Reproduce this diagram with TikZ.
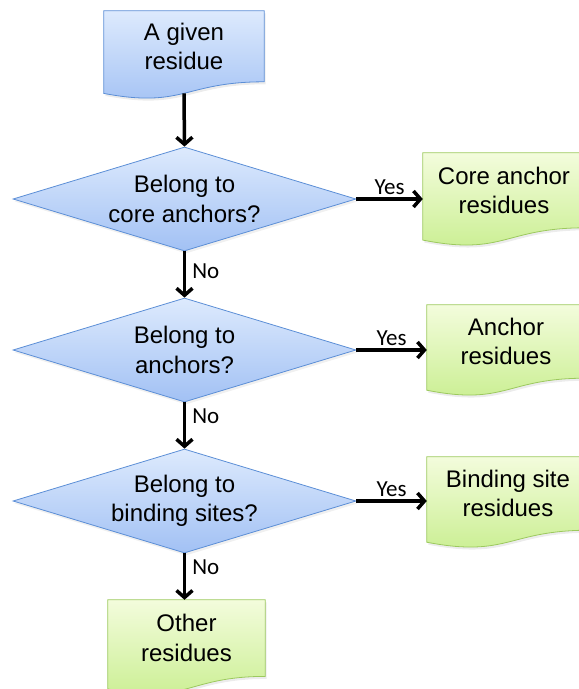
\documentclass[tikz,border=0pt]{standalone}
\usepackage{fontspec}
\setmainfont{Liberation Sans}
\newfontfamily\lblfont{Carlito}
\usetikzlibrary{shapes.geometric,arrows.meta,calc,backgrounds,shadows}
\definecolor{bluetop}{HTML}{DDEAFD}
\definecolor{bluebot}{HTML}{A2C1F4}
\definecolor{blueline}{HTML}{5B8ED6}
\definecolor{greentop}{HTML}{F3FCDC}
\definecolor{greenbot}{HTML}{C8EE8E}
\definecolor{greenline}{HTML}{9CC95E}
\newcommand{\docshape}[3]{%
  \pgfmathsetmacro\dA{0.132*#3}%
  \pgfmathsetmacro\dB{0.305*#3}%
  \path[#2] (#1.north west) -- (#1.north east) -- (#1.south east)
    .. controls (#1.south) and ($(#1.south)+(0,\dB)$) .. ($(#1.south west)+(0,\dA)$) -- cycle;}
\begin{document}
\begin{tikzpicture}[x=1pt,y=-1pt,
  txt/.style={font=\fontsize{24}{29.5}\selectfont, align=center, inner sep=0pt},
  decision/.style={txt, diamond, minimum width=343pt, minimum height=104pt, shape aspect=3.3},
  dblue/.style={draw=blueline, line width=0.8pt, top color=bluetop, bottom color=bluebot},
  docbox/.style={txt, rectangle},
  bluedoc/.style={draw=blueline, line width=0.8pt, top color=bluetop, bottom color=bluebot,
    drop shadow={shadow xshift=1.5pt, shadow yshift=-2.5pt, opacity=0.15}},
  greendoc/.style={draw=greenline, line width=0.8pt, top color=greentop, bottom color=greenbot,
    drop shadow={shadow xshift=1.5pt, shadow yshift=-2.5pt, opacity=0.15}},
  flow/.style={line width=3.5pt, -{Straight Barb[length=7pt,width=16pt]}},
  lbl/.style={font=\lblfont\fontsize{23}{26}\selectfont, inner sep=1pt}]
\path[use as bounding box] (0,0) rectangle (579,689);

% document boxes (text areas)
\node[docbox, minimum width=160pt, minimum height=70.6pt] (start) at (184,46.3) {A given\\residue};
\node[docbox, minimum width=162pt, minimum height=74.6pt] (core) at (504,190.3) {Core anchor\\residues};
\node[docbox, minimum width=158pt, minimum height=73pt] (anch) at (506,341.5) {Anchor\\residues};
\node[docbox, minimum width=162pt, minimum height=73pt] (bind) at (508,493.5) {Binding site\\residues};
\node[docbox, minimum width=157pt, minimum height=76.2pt] (other) at (186.5,638.1) {Other\\residues};

% decisions
\node[decision, dblue, drop shadow={shadow xshift=1.5pt, shadow yshift=-2.5pt, opacity=0.12}] (d1) at (184.5,199) {Belong to\\core anchors?};
\node[decision, dblue, drop shadow={shadow xshift=1.5pt, shadow yshift=-2.5pt, opacity=0.12}] (d2) at (184.5,350) {Belong to\\anchors?};
\node[decision, dblue, drop shadow={shadow xshift=1.5pt, shadow yshift=-2.5pt, opacity=0.12}] (d3) at (184.5,501) {Belong to\\binding sites?};

\begin{pgfonlayer}{background}
\docshape{start}{bluedoc}{88}
\docshape{core}{greendoc}{93}
\docshape{anch}{greendoc}{91}
\docshape{bind}{greendoc}{91}
\docshape{other}{greendoc}{95}
\end{pgfonlayer}

\coordinate (startb) at ($(start.south)+(0,11.5)$);

% connectors
\draw[flow] (startb) -- (d1.north);
\draw[flow] (d1.south) -- node[lbl, pos=0.42, right=5pt] {No} (d2.north);
\draw[flow] (d2.south) -- node[lbl, pos=0.3, right=5pt] {No} (d3.north);
\draw[flow] (d3.south) -- node[lbl, pos=0.3, right=5pt] {No} (d3.south |- other.north);
\draw[flow] (d1.east) -- node[lbl, midway, above=2pt] {Yes} (core.west |- d1.east);
\draw[flow] (d2.east) -- node[lbl, midway, above=2pt] {Yes} (anch.west |- d2.east);
\draw[flow] (d3.east) -- node[lbl, midway, above=2pt] {Yes} (bind.west |- d3.east);
\end{tikzpicture}
\end{document}
